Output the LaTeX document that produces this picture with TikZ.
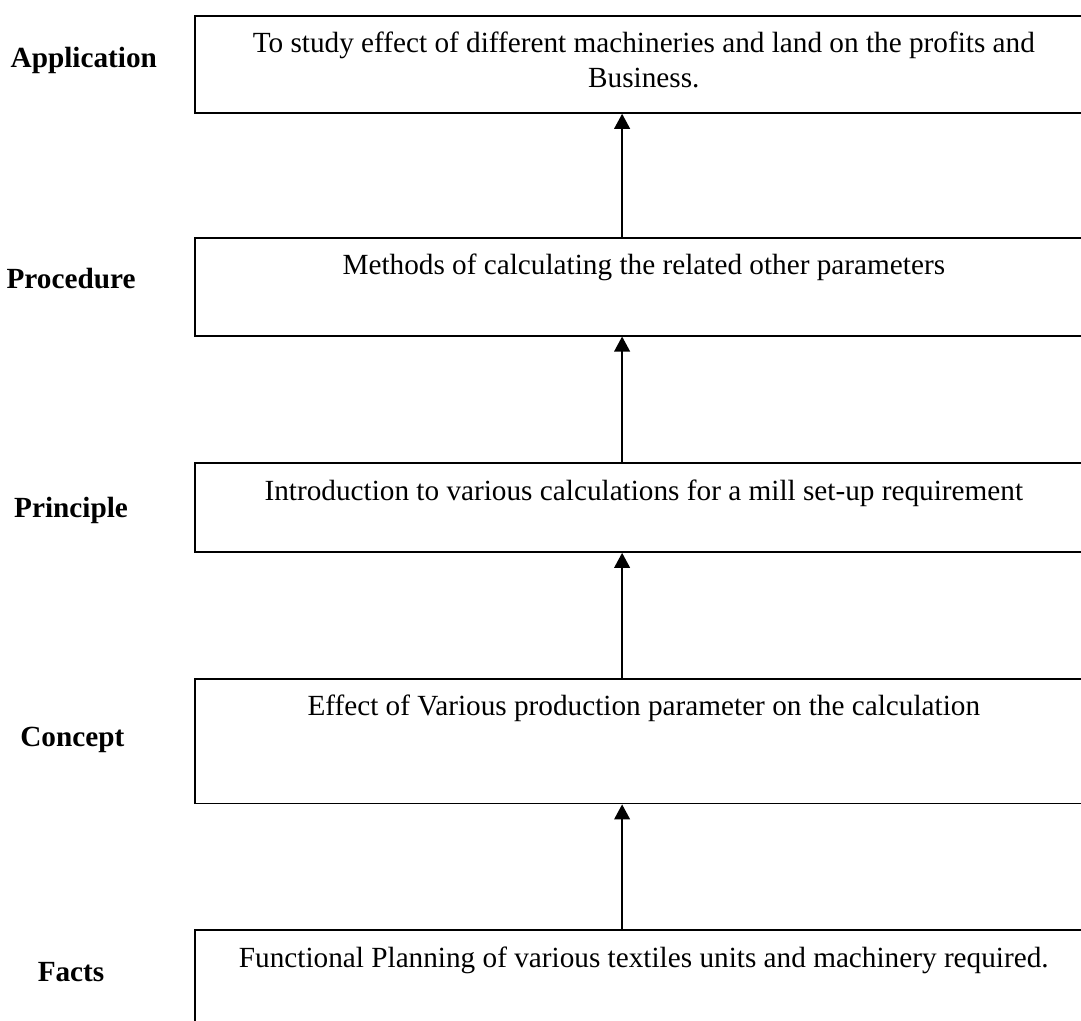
\documentclass[tikz,border=0pt]{standalone}
\usepackage{fontspec}
\setmainfont{Liberation Serif}
\usetikzlibrary{arrows.meta,positioning}

\begin{document}
\begin{tikzpicture}[
    box/.style={draw, line width=0.8pt, rectangle, anchor=north west, minimum width=14.03cm, inner sep=0pt},
    boxtext/.style={anchor=base, align=center, font=\fontsize{13pt}{15.4pt}\selectfont},
    levellabel/.style={anchor=base, font=\fontsize{13pt}{15.4pt}\selectfont\bfseries},
    uparrow/.style={-{Triangle[width=7pt,length=6.7pt]}, line width=0.8pt}
]
    % Page frame
    \useasboundingbox (0,0) rectangle (16.89,-15.94);
    \clip (0,0) rectangle (16.89,-15.94);

    % Boxes
    \node[box, minimum height=1.52cm] (app) at (3.03,-0.23) {};
    \node[box, minimum height=1.53cm] (proc) at (3.03,-3.70) {};
    \node[box, minimum height=1.39cm] (prin) at (3.03,-7.22) {};
    \node[box, minimum height=1.95cm] (conc) at (3.03,-10.59) {};
    \node[box, minimum height=2cm] (fact) at (3.03,-14.52) {};

    % Box texts (two lines: base is on the last line)
    \node[boxtext] (apptext) at ([yshift=-1.136cm]app.north) {To study effect of different machineries and land on the profits and\\Business.};
    \node[boxtext] (proctext) at ([yshift=-0.594cm]proc.north) {Methods of calculating the related other parameters};
    \node[boxtext] (printext) at ([yshift=-0.594cm]prin.north) {Introduction to various calculations for a mill set-up requirement};
    \node[boxtext] (conctext) at ([yshift=-0.594cm]conc.north) {Effect of Various production parameter on the calculation};
    \node[boxtext] (facttext) at ([yshift=-0.594cm]fact.north) {Functional Planning of various textiles units and machinery required.};

    % Level labels
    \node[levellabel] (application) at (1.31,-1.06) {Application};
    \node[levellabel] (procedure) at (1.11,-4.50) {Procedure};
    \node[levellabel] (principle) at (1.11,-8.08) {Principle};
    \node[levellabel] (concept) at (1.13,-11.67) {Concept};
    \node[levellabel] (facts) at (1.11,-15.34) {Facts};

    % Arrows between boxes
    \coordinate (axis) at (9.72,0);
    \draw[uparrow] (axis |- proc.north) -- (axis |- app.south);
    \draw[uparrow] (axis |- prin.north) -- (axis |- proc.south);
    \draw[uparrow] (axis |- conc.north) -- (axis |- prin.south);
    \draw[uparrow] (axis |- fact.north) -- (axis |- conc.south);

\end{tikzpicture}
\end{document}
